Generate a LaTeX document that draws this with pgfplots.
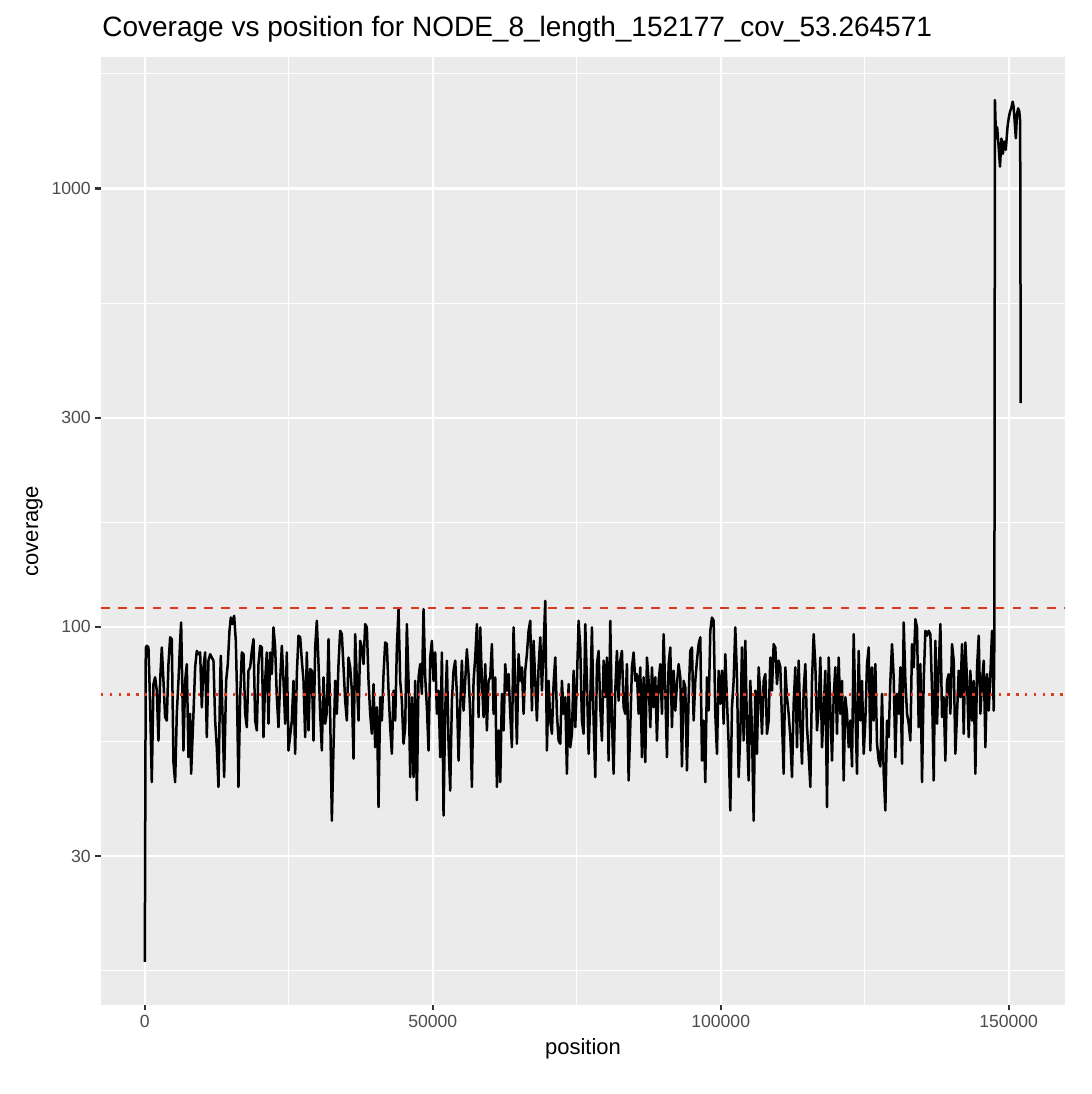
\documentclass[border=0pt]{standalone}
\usepackage{fontspec}
\setmainfont{Liberation Sans}
\usepackage{pgfplots}
\pgfplotsset{compat=1.18}
\definecolor{ggpanel}{HTML}{EBEBEB}
\definecolor{gray20}{HTML}{333333}
\definecolor{gray30}{HTML}{4D4D4D}
\definecolor{hlred}{RGB}{222,58,32}

\begin{document}
\begin{tikzpicture}
\path[use as bounding box, fill=white] (-50.5pt,-44.5pt) rectangle (495.5pt,502.5pt);
\begin{axis}[
  at={(0,0)}, anchor=south west,
  scale only axis, width=482pt, height=474pt,
  ymode=log,
  xmin=-7608.85, xmax=159785.85,
  ymin=13.71, ymax=1996,
  axis background/.style={fill=ggpanel},
  axis line style={draw=none},
  grid=both,
  major grid style={white, line width=1.07pt},
  minor grid style={white, line width=0.53pt},
  xtick={0,50000,100000,150000},
  xticklabels={0,50000,100000,150000},
  minor xtick={25000,75000,125000},
  ytick={30,100,300,1000},
  yticklabels={30,100,300,1000},
  minor ytick={16.43,54.77,173.2,547.7,1825.7},
  scaled x ticks=false,
  tick align=outside, tick pos=left,
  major tick length=2.75pt, minor tick length=0pt,
  every tick/.style={gray20, line width=1.07pt},
  ticklabel style={font=\fontsize{8.8}{10}\selectfont, text=gray30, inner sep=0pt},
  xticklabel style={yshift=-2.2pt},
  yticklabel style={xshift=-2.2pt},
  title={Coverage vs position for NODE\_8\_length\_152177\_cov\_53.264571},
  every axis title/.style={at={(rel axis cs:0,1)}, anchor=base west, yshift=10pt, xshift=0.5pt,
    inner sep=0pt, font=\fontsize{14}{16}\selectfont},
  xlabel={position},
  every axis x label/.style={at={(rel axis cs:0.5,0)}, anchor=base, yshift=-25pt,
    inner sep=0pt, font=\fontsize{11}{13}\selectfont},
]
% coverage per position window
\addplot[black, line width=1.25pt, line join=round, mark=none] coordinates {
(0,17.2) (168,89.7) (342,90.5) (632,89.7) (921,66.7) (1211,44.2) (1500,74.0) (1790,76.7) (2079,71.5) (2369,55.0)
(2658,75.3) (2948,89.7) (3237,75.3) (3527,62.2) (3816,61.1) (4106,82.2) (4395,94.6) (4685,93.7) (4974,49.1) (5264,44.2)
(5553,63.3) (5843,75.3) (6132,92.9) (6306,102.3) (6711,52.2) (7001,75.3) (7290,82.2) (7580,50.4) (7869,63.3) (8043,46.2)
(8448,63.3) (8738,80.8) (9027,88.1) (9317,86.6) (9606,87.4) (9896,65.5) (10185,80.8) (10475,87.4) (10764,56.0) (11054,83.7)
(11343,86.6) (11633,85.1) (11922,83.7) (12212,61.1) (12501,53.1) (12791,43.1) (13080,75.3) (13196,85.9) (13485,63.3) (13775,45.4)
(14122,75.3) (14412,82.2) (14701,97.9) (14933,105.0) (15222,101.4) (15512,105.9) (15801,92.9) (15975,74.0) (16265,43.1) (16554,69.1)
(16844,87.4) (17133,86.6) (17423,63.3) (17712,59.0) (18002,79.4) (18291,80.8) (18581,88.1) (18870,93.7) (19160,61.1) (19449,58.0)
(19739,82.2) (20028,90.5) (20318,89.7) (20607,56.0) (20897,75.3) (21186,87.4) (21476,60.1) (21765,87.4) (22055,78.0) (22344,99.7)
(22634,89.7) (22923,69.1) (23213,59.0) (23502,75.3) (23792,90.5) (24081,75.3) (24371,60.1) (24660,87.4) (24950,52.2)
(25529,61.1) (25818,75.3) (26108,51.3) (26397,78.0) (26687,95.4) (26976,94.6) (27266,83.7) (27555,75.3) (27845,56.0) (28134,87.4)
(28424,58.0) (28713,80.1) (29003,79.4) (29292,55.0) (29582,89.7) (29871,103.2) (30161,82.2) (30450,63.3) (30740,52.2) (31029,76.7)
(31319,60.1) (31608,63.8) (31898,93.7) (32187,63.3) (32477,36.1) (32766,53.1) (33056,75.3) (33345,63.3) (33635,82.2) (33924,97.9)
(34214,96.2) (34503,80.8) (34793,67.8) (35082,61.1) (35372,85.1) (35661,80.8) (35951,71.5) (36240,50.0) (36530,96.2) (36819,75.3)
(37109,61.1) (37398,92.9) (37688,89.7) (37977,82.2) (38267,101.4) (38556,99.7) (38846,75.3) (39135,63.3) (39425,57.0) (39714,74.0)
(40004,53.1) (40293,65.5) (40583,38.8) (40872,69.1) (41162,61.1) (41451,78.0) (41741,92.1) (42030,91.3) (42320,71.5) (42609,59.0)
(42899,51.3) (43188,71.5) (43478,61.1) (43767,89.7) (44057,109.7) (44346,75.3) (44636,67.8) (44925,54.1) (45215,59.0) (45504,101.4)
(45794,75.3) (46083,45.4) (46373,69.1) (46662,45.4) (46952,75.3) (47241,40.2) (47531,76.7) (47820,82.2) (48110,70.3) (48399,109.7)
(48689,76.7) (48978,65.5) (49268,52.2) (49557,85.1) (49847,92.9) (50136,75.3) (50426,87.4) (50715,63.3) (51005,71.5) (51294,50.4)
(51584,87.4) (51873,37.1) (52163,64.4) (52452,83.7) (52742,54.1) (53031,42.3) (53321,67.8) (53610,79.4) (53900,83.7) (54189,70.3)
(54479,49.5) (54768,65.5) (55058,83.7) (55347,64.4) (55637,75.3) (55926,88.9) (56216,78.0) (56505,63.3) (56795,43.1) (57084,75.3)
(57374,85.1) (57663,101.4) (57953,62.2) (58242,99.7) (58532,75.3) (58821,62.2) (59111,82.2) (59400,58.0) (59690,75.3) (59979,76.7)
(60269,91.3) (60559,63.3) (60848,76.7) (61138,43.1) (61427,58.0) (61717,44.2) (62006,70.3) (62296,58.0) (62585,82.2) (62875,71.5)
(63164,78.0) (63454,63.3) (63743,53.1) (64033,99.7) (64322,74.0) (64612,54.1) (64901,86.6) (65191,75.3) (65480,80.8) (65770,63.3)
(66059,79.4) (66349,86.6) (66638,97.9) (66928,103.2) (67217,64.4) (67507,92.9) (67796,75.3) (68086,61.1) (68375,80.8) (68665,94.6)
(68954,71.5) (69244,89.7) (69533,114.6) (69823,52.2) (70112,75.3) (70402,61.1) (70691,57.0) (70981,74.0) (71270,85.1) (71560,63.3)
(71849,55.0) (72139,54.1) (72428,75.3) (72718,63.3) (73007,69.1) (73297,46.2) (73586,74.0) (73876,53.1) (74165,57.0) (74455,79.4)
(74744,59.0) (75034,75.3) (75323,103.2) (75613,89.7) (75902,61.1) (76192,57.0) (76481,101.4) (76771,75.3) (77060,51.3) (77350,67.8)
(77639,99.7) (77929,61.1) (78218,45.4) (78508,82.2) (78797,88.1) (79087,65.5) (79376,55.0) (79666,83.7) (79955,69.1) (80245,85.1)
(80534,49.5) (80824,103.2) (81113,61.1) (81403,46.2) (81692,71.5) (81982,88.1) (82271,67.8) (82561,83.7) (82850,88.1) (83140,65.5)
(83429,63.3) (83719,82.2) (84008,44.6) (84298,59.0) (84587,80.8) (84877,87.4) (85166,75.3) (85456,78.0) (85745,63.3) (86035,80.8)
(86324,50.4) (86614,76.7) (86903,49.1) (87193,85.1) (87482,75.3) (87772,59.0) (88061,80.8) (88351,65.5) (88640,76.7) (88930,55.0)
(89219,75.3) (89509,82.2) (89798,63.3) (90088,96.2) (90377,71.5) (90667,50.4) (90956,82.2) (91246,89.7) (91535,59.0) (91825,79.4)
(92114,64.4) (92404,74.0) (92693,82.2) (92983,76.7)
(93272,48.0) (93562,75.3) (93851,72.7) (94141,47.0) (94430,69.1) (94720,88.1) (95009,89.7) (95299,61.1) (95588,75.3) (95878,83.7)
(96167,91.3) (96457,94.6) (96746,49.5) (97036,61.1) (97325,44.2) (97615,76.7) (97904,64.4) (98194,97.9) (98483,105.0) (98773,103.2)
(99062,63.3) (99352,51.3) (99641,79.4) (99931,66.7) (100220,79.4) (100510,60.1) (100799,86.6) (101089,67.8) (101378,54.1) (101668,38.1)
(101957,65.5) (102247,75.3) (102536,99.7) (102826,76.7) (103115,45.4) (103405,57.0) (103694,89.7) (103984,55.0) (104273,92.9) (104563,59.0)
(104852,44.6) (105142,75.3) (105431,58.0) (105721,36.1) (106010,71.5) (106300,51.3) (106589,80.8) (106879,70.3) (107168,57.0) (107458,75.3)
(107747,78.0) (108037,57.0) (108326,61.1) (108616,85.1) (108905,71.5) (109195,91.3) (109484,89.7) (109774,74.0) (110063,83.7) (110353,80.8)
(110642,61.1) (110932,46.2) (111221,80.8) (111511,69.1) (111800,63.3) (112090,56.0) (112379,45.4) (112669,66.7) (112958,80.8) (113248,53.1)
(113537,83.7) (113827,60.1) (114116,48.7) (114406,71.5) (114695,82.2) (114985,59.0) (115274,51.3) (115564,43.1) (115853,75.3) (116143,96.2)
(116432,82.2) (116722,58.0) (117011,65.5) (117301,85.1) (117590,53.1) (117880,64.4) (118169,79.4) (118459,38.8) (118748,85.1) (119038,65.5)
(119327,49.5) (119617,69.1) (119906,80.8) (120196,57.0) (120485,85.1) (120775,63.3) (121064,75.3) (121354,44.6) (121643,69.1) (121933,63.3)
(122222,53.1) (122512,61.1) (122801,48.0) (123091,96.2) (123380,65.5) (123670,46.2) (123959,88.1) (124249,61.1) (124538,75.3) (124828,51.3)
(125117,61.1) (125407,82.2) (125696,89.7) (125986,52.2)
(126275,80.8) (126565,61.1) (126854,82.2) (127144,54.1) (127433,49.5) (127723,48.0) (128012,70.3) (128302,46.2) (128591,38.1) (128881,61.1)
(129170,56.0) (129460,75.3) (129749,91.3) (130039,76.7) (130328,50.4) (130618,70.3) (130907,63.3) (131197,80.8) (131486,48.7) (131776,102.3)
(132065,75.3) (132355,63.3) (132644,60.1) (132934,55.0) (133223,91.3) (133513,80.8) (133802,104.1) (134092,99.7) (134381,59.0) (134671,82.2)
(134960,44.2) (135250,75.3) (135539,97.9) (135829,95.4) (136118,97.9) (136408,96.2) (136697,71.5) (136987,44.6) (137276,92.9) (137566,60.1)
(137855,80.8) (138145,101.4) (138434,62.2) (138724,69.1) (139013,49.5) (139303,75.3) (139592,78.0) (139882,63.3) (140171,91.3) (140461,83.7)
(140750,51.3) (141040,63.3) (141329,79.4) (141619,69.1) (141908,91.3) (142198,57.0) (142487,92.1) (142777,75.3) (143066,56.0) (143356,79.4)
(143645,61.1) (143935,75.3) (144224,46.2) (144514,80.8) (144803,95.4) (145093,63.3) (145382,75.3) (145672,83.7) (145961,53.1) (146251,78.0)
(146540,64.4) (146830,78.0) (147119,97.9) (147409,64.4) (147524,95)
(147620,1592) (147800,1300) (148000,1380) (148250,1250) (148500,1122) (148750,1300) (149000,1200) (149200,1280) (149500,1225) (149800,1380)
(150000,1445) (150250,1500) (150450,1524) (150700,1578) (150850,1540) (151000,1450) (151250,1302) (151450,1480) (151650,1524) (151850,1500)
(152000,1421) (152100,324)
};
% reference lines
\addplot[hlred, line width=1.07pt, dash pattern=on 4.3pt off 4.3pt] coordinates {(-7608.85,110.3) (159785.85,110.3)};
\addplot[hlred, line width=1.2pt, dash pattern=on 1.2pt off 3.2pt] coordinates {(-7608.85,70.1) (159785.85,70.1)};
\coordinate (ylab) at (rel axis cs:0,0.5);
\end{axis}
\node[rotate=90, anchor=base, inner sep=0pt, font=\fontsize{11}{13}\selectfont] at ([xshift=-31.45pt]ylab) {coverage};
\end{tikzpicture}
\end{document}
